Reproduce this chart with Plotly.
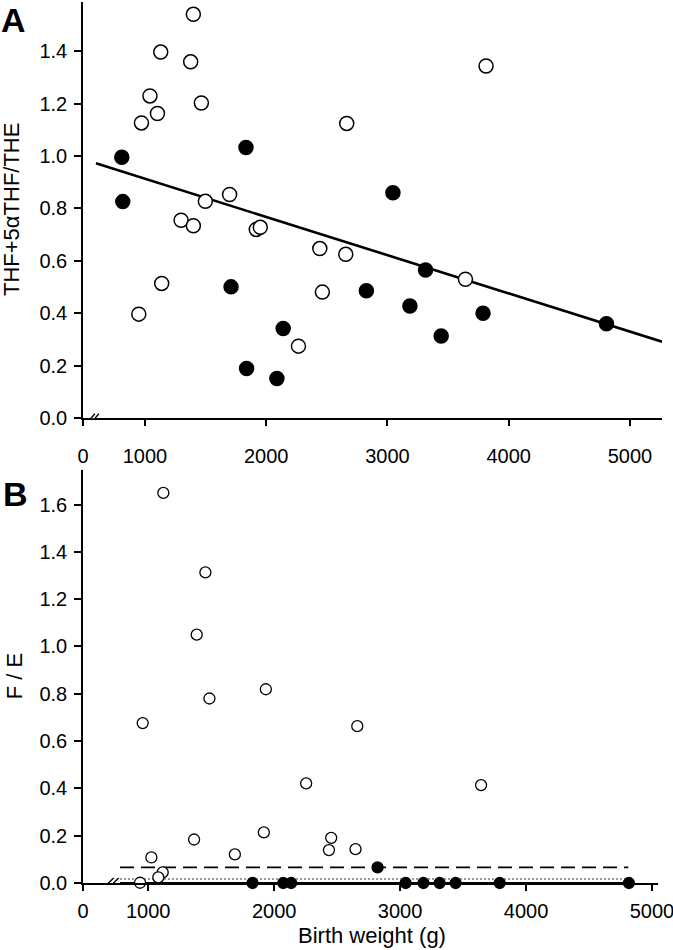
import plotly.graph_objects as go

# ---------------- Panel A data ----------------
a_filled_x = [809, 817, 1833, 1710, 2140, 1838, 2088, 3045, 3314, 2826, 3185, 3788, 3443, 4806]
a_filled_y = [0.995, 0.826, 1.032, 0.501, 0.342, 0.190, 0.152, 0.860, 0.565, 0.486, 0.428, 0.400, 0.314, 0.360]

a_open_x = [1399, 1130, 1377, 1041, 1465, 1103, 971, 1698, 1498, 1298, 1399, 1918, 1951,
            2442, 1138, 949, 2463, 2266, 3813, 2664, 2656, 3643]
a_open_y = [1.540, 1.396, 1.359, 1.229, 1.202, 1.162, 1.126, 0.853, 0.827, 0.755, 0.734, 0.720, 0.728,
            0.647, 0.514, 0.397, 0.481, 0.275, 1.343, 1.124, 0.625, 0.530]

reg_intercept = 1.0588
reg_slope = -1.4567e-4
reg_x = [596, 5264]

# ---------------- Panel B data ----------------
b_open_x = [1120, 1454, 1385, 1934, 1486, 956, 2254, 1918, 2453, 1364, 2435, 1688, 1025,
            1115, 1080, 935, 2660, 3643, 2646]
b_open_y = [1.649, 1.313, 1.050, 0.819, 0.780, 0.676, 0.421, 0.214, 0.191, 0.184, 0.139, 0.121, 0.108,
            0.045, 0.024, 0.001, 0.663, 0.414, 0.143]

b_filled_x = [1828, 2072, 2135, 2821, 3044, 3185, 3314, 3441, 3791, 4817]
b_filled_y = [0, 0, 0, 0.066, 0, 0, 0, 0, 0, 0]

b_ref_x = [776, 4812]
b_dashed_y = 0.066
b_dotted_y = 0.017
b_solid_y = 0.0

# ---------------- axes / ticks ----------------
a_xrange = [489, 5264]
b_xrange = [482, 5048]
a_yrange = [0, 1.587]
b_yrange = [0, 1.746]
a_xtickvals = [489, 1000, 2000, 3000, 4000, 5000]
b_xtickvals = [482, 1000, 2000, 3000, 4000, 5000]
xticktext = ["0", "1000", "2000", "3000", "4000", "5000"]
a_ytickvals = [0, 0.2, 0.4, 0.6, 0.8, 1.0, 1.2, 1.4]
b_ytickvals = [0, 0.2, 0.4, 0.6, 0.8, 1.0, 1.2, 1.4, 1.6]

FONT = "Liberation Sans, Arial, sans-serif"
TICKFONT = dict(family=FONT, size=20, color="black")

fig = go.Figure()

# Panel A
fig.add_trace(go.Scatter(
    x=reg_x, y=[reg_intercept + reg_slope * v for v in reg_x],
    mode="lines", line=dict(color="black", width=2.6),
    xaxis="x", yaxis="y", showlegend=False, hoverinfo="skip"))
fig.add_trace(go.Scatter(
    x=a_open_x, y=a_open_y, mode="markers",
    marker=dict(size=14, color="white", line=dict(color="black", width=1.5)),
    xaxis="x", yaxis="y", showlegend=False, cliponaxis=False))
fig.add_trace(go.Scatter(
    x=a_filled_x, y=a_filled_y, mode="markers",
    marker=dict(size=14, color="black", line=dict(color="black", width=1.5)),
    xaxis="x", yaxis="y", showlegend=False, cliponaxis=False))

# Panel B
fig.add_trace(go.Scatter(
    x=b_ref_x, y=[b_solid_y] * 2, mode="lines",
    line=dict(color="black", width=2),
    xaxis="x2", yaxis="y2", showlegend=False, hoverinfo="skip", cliponaxis=False))
fig.add_trace(go.Scatter(
    x=b_ref_x, y=[b_dotted_y] * 2, mode="lines",
    line=dict(color="#333333", width=1.2, dash="2px,2px"),
    xaxis="x2", yaxis="y2", showlegend=False, hoverinfo="skip"))
fig.add_trace(go.Scatter(
    x=b_ref_x, y=[b_dashed_y] * 2, mode="lines",
    line=dict(color="black", width=1.6, dash="14px,7px"),
    xaxis="x2", yaxis="y2", showlegend=False, hoverinfo="skip"))
fig.add_trace(go.Scatter(
    x=b_open_x, y=b_open_y, mode="markers",
    marker=dict(size=11, color="white", line=dict(color="black", width=1.3)),
    xaxis="x2", yaxis="y2", showlegend=False, cliponaxis=False))
fig.add_trace(go.Scatter(
    x=b_filled_x, y=b_filled_y, mode="markers",
    marker=dict(size=11, color="black", line=dict(color="black", width=1.3)),
    xaxis="x2", yaxis="y2", showlegend=False, cliponaxis=False))

line_common = dict(showline=True, linecolor="black", linewidth=1.5,
                   ticks="outside", tickwidth=1.5, tickcolor="black",
                   showgrid=False, zeroline=False, tickfont=TICKFONT,
                   ticklabeloverflow="allow")

fig.update_layout(
    width=673, height=950,
    margin=dict(l=83, r=11, t=2, b=67, autoexpand=False),
    paper_bgcolor="white", plot_bgcolor="white",
    showlegend=False,
    xaxis=dict(domain=[0, 1], anchor="y", range=a_xrange, ticklen=6, ticklabelstandoff=13,
               tickvals=a_xtickvals, ticktext=xticktext, **line_common),
    yaxis=dict(domain=[0.5275, 1.0], anchor="x", range=a_yrange, ticklen=7, ticklabelstandoff=3,
               tickvals=a_ytickvals, tickformat=".1f", **line_common),
    xaxis2=dict(domain=[0, 0.9931], anchor="y2", range=b_xrange, ticklen=6, ticklabelstandoff=3,
                tickvals=b_xtickvals, ticktext=xticktext, **line_common),
    yaxis2=dict(domain=[0, 0.4688], anchor="x2", range=b_yrange, ticklen=7, ticklabelstandoff=3,
                tickvals=b_ytickvals, tickformat=".1f", **line_common),
)

# axis breaks
def add_break(xref, yref, xval, w, h, gap):
    fig.add_shape(type="line", xref=xref, yref=yref, xsizemode="pixel", ysizemode="pixel",
                  xanchor=xval, yanchor=0, x0=-gap / 2, x1=gap / 2, y0=0, y1=0,
                  line=dict(color="white", width=4), layer="above")
    for off in (-gap / 2, gap / 2):
        fig.add_shape(type="line", xref=xref, yref=yref, xsizemode="pixel", ysizemode="pixel",
                      xanchor=xval, yanchor=0, x0=off - w / 2, x1=off + w / 2, y0=-h / 2, y1=h / 2,
                      line=dict(color="black", width=1.4), layer="above")

add_break("x", "y", 571, 8, 9, 4)
add_break("x2", "y2", 705, 10, 10, 5)

ann_font = dict(family=FONT, size=22, color="black")
fig.add_annotation(text="THF+5\u03b1THF/THE", xref="paper", yref="paper",
                   x=-0.1244, y=0.765, textangle=-90, showarrow=False,
                   xanchor="center", yanchor="middle", font=ann_font)
fig.add_annotation(text="F / E", xref="paper", yref="paper",
                   x=-0.117, y=0.235, textangle=-90, showarrow=False,
                   xanchor="center", yanchor="middle", font=ann_font)
fig.add_annotation(text="Birth weight (g)", xref="paper", yref="paper",
                   x=0.499, y=-0.0595, showarrow=False,
                   xanchor="center", yanchor="middle", font=ann_font)
fig.add_annotation(text="<b>A</b>", xref="paper", yref="paper",
                   x=-0.12, y=0.980, showarrow=False,
                   xanchor="center", yanchor="middle",
                   font=dict(family=FONT, size=34, color="black"))
fig.add_annotation(text="<b>B</b>", xref="paper", yref="paper",
                   x=-0.117, y=0.441, showarrow=False,
                   xanchor="center", yanchor="middle",
                   font=dict(family=FONT, size=34, color="black"))

fig.write_html("out.html", config={"displayModeBar": False},
               post_script="document.body.style.margin='0';")
